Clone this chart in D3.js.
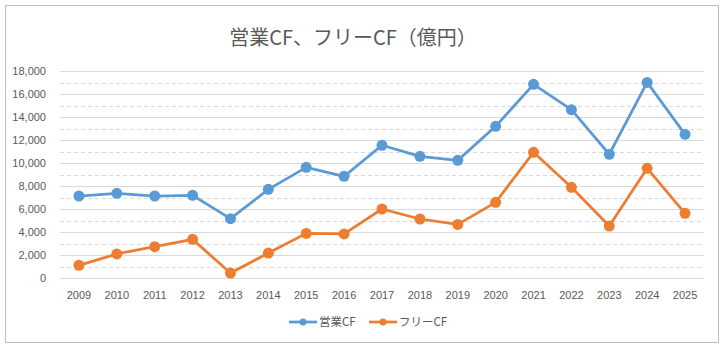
<!DOCTYPE html>
<html>
<head>
<meta charset="utf-8">
<script src="https://cdn.jsdelivr.net/npm/d3@7"></script>
<style>
body { margin: 0; background: #fff; }
text { font-family: "Noto Sans CJK JP", "Noto Sans", sans-serif; fill: #595959; }
</style>
</head>
<body>
<div id="chart"></div>
<script>
const years = ['2009','2010','2011','2012','2013','2014','2015','2016','2017','2018','2019','2020','2021','2022','2023','2024','2025'];
const opCF = [7130,7360,7130,7190,5160,7710,9620,8840,11540,10580,10230,13190,16840,14640,10760,17010,12490];
const freeCF = [1100,2090,2720,3360,430,2170,3880,3830,6000,5130,4660,6580,10930,7890,4520,9540,5620];
const yTicks = [0,2000,4000,6000,8000,10000,12000,14000,16000,18000];
const minorTicks = [1000,3000,5000,7000,9000,11000,13000,15000,17000];
const seriesNames = ['営業CF','フリーCF'];
const colors = ['#5B9BD5','#ED7D31'];

const width = 726, height = 350;
const plotLeft = 60, plotRight = 704, plotTop = 71, plotBottom = 278;

const svg = d3.select('#chart')
    .append('svg')
    .attr('width', width)
    .attr('height', height);

svg.append('rect')
    .attr('x', 5.5).attr('y', 5.5)
    .attr('width', 713).attr('height', 337)
    .style('fill', '#fff')
    .style('stroke', '#BFBFBF');

let x = d3.scaleBand().domain(years).range([plotLeft, plotRight]);
let y = d3.scaleLinear().domain([0, 18000]).range([plotBottom, plotTop]);

// minor dashed gridlines
svg.selectAll('.minor')
    .data(minorTicks)
    .enter()
    .append('line')
    .attr('x1', plotLeft).attr('x2', plotRight)
    .attr('y1', d => Math.round(y(d)) + 0.5)
    .attr('y2', d => Math.round(y(d)) + 0.5)
    .style('stroke', '#D9D9D9')
    .attr('stroke-dasharray', '4 3');

let yAxis = d3.axisLeft(y).tickValues(yTicks).tickSize(-(plotRight - plotLeft)).tickFormat(d3.format(','));
let yg = svg.append('g')
    .attr('transform', 'translate(' + plotLeft + ',0)')
    .call(yAxis);
yg.select('.domain').remove();
yg.selectAll('line').style('stroke', '#D9D9D9');
yg.selectAll('text')
    .attr('x', -14)
    .style('font-family', '"Liberation Sans", sans-serif')
    .style('font-size', '11px')
    .style('fill', '#595959');

let xAxis = d3.axisBottom(x).tickSize(0);
let xg = svg.append('g')
    .attr('transform', 'translate(0,' + plotBottom + ')')
    .call(xAxis);
xg.select('.domain').remove();
xg.selectAll('text')
    .attr('dy', 0)
    .attr('y', 21)
    .style('font-family', '"Liberation Sans", sans-serif')
    .style('font-size', '11px')
    .style('fill', '#595959');

const cx = d => x(d) + x.bandwidth() / 2;

[opCF, freeCF].forEach((vals, i) => {
    let line = d3.line()
        .x((d, j) => cx(years[j]))
        .y(d => y(d));
    svg.append('path')
        .datum(vals)
        .attr('d', line)
        .style('fill', 'none')
        .style('stroke', colors[i])
        .style('stroke-width', 2.75)
        .style('stroke-linejoin', 'round');
    svg.selectAll('.dot' + i)
        .data(vals)
        .enter()
        .append('circle')
        .attr('cx', (d, j) => cx(years[j]))
        .attr('cy', d => y(d))
        .attr('r', 5.5)
        .style('fill', colors[i]);
});

svg.append('text')
    .attr('x', 353)
    .attr('y', 45)
    .style('text-anchor', 'middle')
    .style('font-size', '20px')
    .text('営業CF、フリーCF（億円）');

// legend
const legendX = [289, 369];
seriesNames.forEach((name, i) => {
    let g = svg.append('g').attr('transform', 'translate(' + legendX[i] + ',322)');
    g.append('line')
        .attr('x1', 0).attr('x2', 28)
        .style('stroke', colors[i])
        .style('stroke-width', 2.75);
    g.append('circle')
        .attr('cx', 14).attr('r', 3.5)
        .style('fill', colors[i]);
    g.append('text')
        .attr('x', 30)
        .attr('y', 4)
        .style('font-size', '11.5px')
        .text(name);
});
</script>
</body>
</html>
